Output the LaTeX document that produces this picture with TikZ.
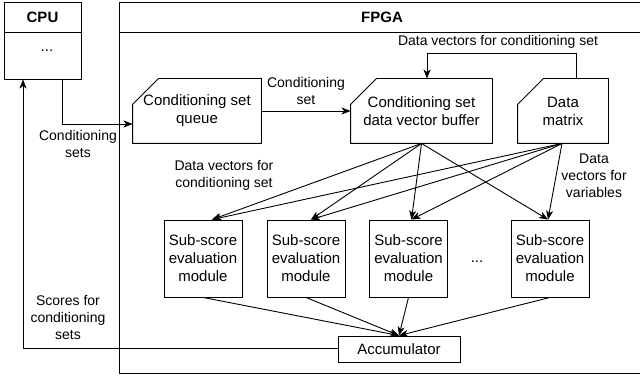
\documentclass[tikz,border=0pt]{standalone}
\usepackage{fontspec}
\setmainfont{Liberation Sans}
\usetikzlibrary{arrows.meta}
\begin{document}
\begin{tikzpicture}[x=1pt,y=-1pt,line width=0.9pt,
  boxtext/.style={font=\fontsize{15}{18}\selectfont,align=center,inner sep=0pt},
  lbl/.style={font=\fontsize{14}{17}\selectfont,align=center,inner sep=0pt},
  cardbox/.style={boxtext,minimum height=64pt},
  modbox/.style={boxtext,draw,minimum width=78pt,minimum height=77pt},
  arr/.style={-{Stealth[length=9pt,width=7pt,inset=2.5pt]}}]
\useasboundingbox (0,0) rectangle (640,379);
% CPU
\node[draw,minimum width=77pt,minimum height=77pt,inner sep=0pt] (cpu) at (42.5,40.5) {};
\draw (4,32) -- (81,32);
\node[boxtext,font=\fontsize{15}{18}\selectfont\bfseries] (cpulbl) at (42.5,17) {CPU};
\node[boxtext] (cpudots) at (47,51) {...};
% FPGA
\draw (640,2) -- (119,2) -- (119,373) -- (640,373);
\draw (119,32) -- (640,32);
\node[boxtext,font=\fontsize{15}{18}\selectfont\bfseries] (fpgalbl) at (382,17) {FPGA};
% card nodes
\node[cardbox,minimum width=128pt] (q) at (197,111) {Conditioning set\\queue};
\node[cardbox,minimum width=141pt] (b) at (421.5,111) {Conditioning set\\data vector buffer};
\node[cardbox,minimum width=90pt] (dm) at (563,111) {Data\\matrix};
\foreach \n in {q,b,dm}{
  \draw ([yshift=-26pt]\n.north west) -- ([xshift=26pt]\n.north west) -- (\n.north east) -- (\n.south east) -- (\n.south west) -- cycle;
}
% modules
\node[modbox] (m1) at (203,258.5) {Sub-score\\evaluation\\module};
\node[modbox] (m2) at (306,258.5) {Sub-score\\evaluation\\module};
\node[modbox] (m3) at (408.5,258.5) {Sub-score\\evaluation\\module};
\node[modbox] (m4) at (550,258.5) {Sub-score\\evaluation\\module};
\node[boxtext] (mdots) at (477,262) {...};
\node[boxtext,draw,minimum width=122pt,minimum height=26pt] (acc) at (399,349) {Accumulator};
% CPU -> queue
\draw[arr] ([xshift=19.5pt]cpu.south) |- ([yshift=-13pt]q.west);
\node[lbl] (l1) at (78,144) {Conditioning\\sets};
% queue -> buffer
\draw[arr] (q.east) -- (b.west);
\node[lbl] (l2) at (306,91) {Conditioning\\set};
% data matrix -> buffer feedback
\coordinate (fb1) at (576,53);
\draw[arr] ([xshift=13pt]dm.north) |- (fb1 -| 427,0) -- ([xshift=5.5pt]b.north);
\node[lbl] (l3) at (498,42) {Data vectors for conditioning set};
% fan-out
\draw[arr] (b.south) -- ([xshift=9pt]m1.north);
\draw[arr] (b.south) -- ([xshift=5pt]m2.north);
\draw[arr] (b.south) -- ([xshift=3pt]m3.north);
\draw[arr] (b.south) -- ([xshift=-2pt]m4.north);
\draw[arr] ([xshift=-1pt]dm.south) -- ([xshift=9pt]m1.north);
\draw[arr] ([xshift=-1pt]dm.south) -- ([xshift=5pt]m2.north);
\draw[arr] ([xshift=-1pt]dm.south) -- ([xshift=3pt]m3.north);
\draw[arr] ([xshift=-1pt]dm.south) -- ([xshift=-2pt]m4.north);
\node[lbl] (l4) at (224,175.5) {Data vectors for\\conditioning set};
\node[lbl] (l5) at (594,176) {Data\\vectors for\\variables};
% modules -> accumulator
\foreach \m in {m1,m2,m3,m4}{
  \draw[arr] (\m.south) -- (acc.north);
}
% accumulator -> CPU
\draw[arr] ([yshift=1pt]acc.west) -| ([xshift=-19.5pt]cpu.south);
\node[lbl] (l6) at (68,318) {Scores for\\conditioning\\sets};
\end{tikzpicture}
\end{document}
